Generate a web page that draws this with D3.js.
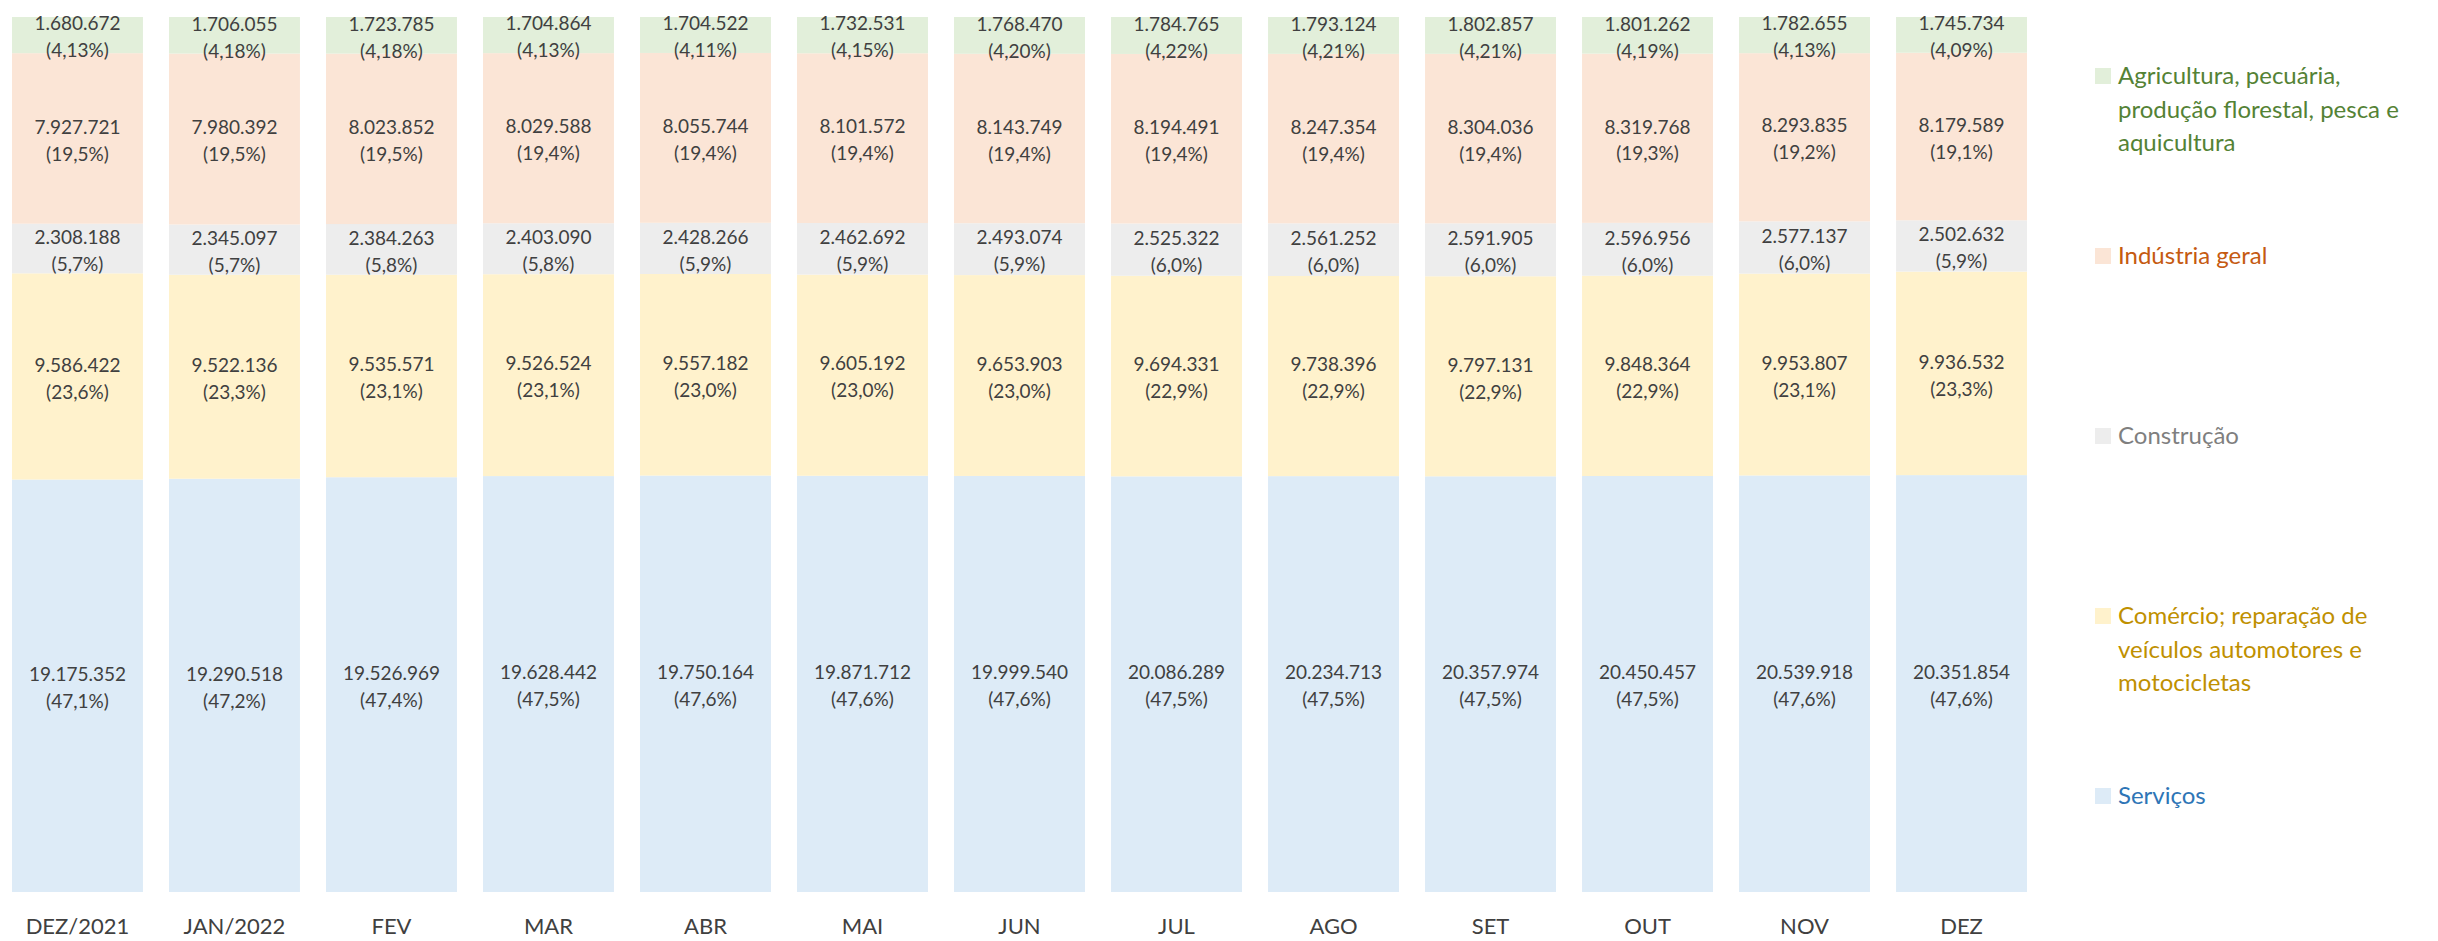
<!DOCTYPE html>
<html>
<head>
<meta charset="utf-8">
<script src="https://cdn.jsdelivr.net/npm/d3@7.9.0/dist/d3.min.js"></script>
<style>
  html, body { margin: 0; padding: 0; background: #fff; }
  svg { display: block; font-family: Lato, "Open Sans", sans-serif; }
</style>
</head>
<body>
<svg id="chart" width="2438" height="941"></svg>
<script>
// meses
const months = ['DEZ/2021', 'JAN/2022', 'FEV', 'MAR', 'ABR', 'MAI', 'JUN', 'JUL', 'AGO', 'SET', 'OUT', 'NOV', 'DEZ'];

// setores (de baixo para cima)
const sectors = ['servicos', 'comercio', 'construcao', 'industria', 'agricultura'];

const servicos    = [19175352, 19290518, 19526969, 19628442, 19750164, 19871712, 19999540, 20086289, 20234713, 20357974, 20450457, 20539918, 20351854];
const comercio    = [9586422, 9522136, 9535571, 9526524, 9557182, 9605192, 9653903, 9694331, 9738396, 9797131, 9848364, 9953807, 9936532];
const construcao  = [2308188, 2345097, 2384263, 2403090, 2428266, 2462692, 2493074, 2525322, 2561252, 2591905, 2596956, 2577137, 2502632];
const industria   = [7927721, 7980392, 8023852, 8029588, 8055744, 8101572, 8143749, 8194491, 8247354, 8304036, 8319768, 8293835, 8179589];
const agricultura = [1680672, 1706055, 1723785, 1704864, 1704522, 1732531, 1768470, 1784765, 1793124, 1802857, 1801262, 1782655, 1745734];

// percentuais como aparecem nos rótulos
const pctServicos    = ['47,1', '47,2', '47,4', '47,5', '47,6', '47,6', '47,6', '47,5', '47,5', '47,5', '47,5', '47,6', '47,6'];
const pctComercio    = ['23,6', '23,3', '23,1', '23,1', '23,0', '23,0', '23,0', '22,9', '22,9', '22,9', '22,9', '23,1', '23,3'];
const pctConstrucao  = ['5,7', '5,7', '5,8', '5,8', '5,9', '5,9', '5,9', '6,0', '6,0', '6,0', '6,0', '6,0', '5,9'];
const pctIndustria   = ['19,5', '19,5', '19,5', '19,4', '19,4', '19,4', '19,4', '19,4', '19,4', '19,4', '19,3', '19,2', '19,1'];
const pctAgricultura = ['4,13', '4,18', '4,18', '4,13', '4,11', '4,15', '4,20', '4,22', '4,21', '4,21', '4,19', '4,13', '4,09'];

const legendItems = [
  { key: 'agricultura', lines: ['Agricultura, pecuária,', 'produção florestal, pesca e', 'aquicultura'] },
  { key: 'industria',   lines: ['Indústria geral'] },
  { key: 'construcao',  lines: ['Construção'] },
  { key: 'comercio',    lines: ['Comércio; reparação de', 'veículos automotores e', 'motocicletas'] },
  { key: 'servicos',    lines: ['Serviços'] }
];

const fill = { agricultura: '#e2efda', industria: '#fbe5d6', construcao: '#ededed', comercio: '#fff2cc', servicos: '#ddebf7' };
const ink  = { agricultura: '#548235', industria: '#c55a11', construcao: '#7f7f7f', comercio: '#bf9000', servicos: '#2e75b6' };

const values = { servicos, comercio, construcao, industria, agricultura };
const pcts = { servicos: pctServicos, comercio: pctComercio, construcao: pctConstrucao, industria: pctIndustria, agricultura: pctAgricultura };

const rows = months.map((m, i) => {
  const r = { month: m, i };
  sectors.forEach(s => r[s] = values[s][i]);
  return r;
});

const svg = d3.select('#chart');

const x = d3.scaleBand().domain(months).range([12, 2027]).paddingInner(0.166).paddingOuter(0);
const y = d3.scaleLinear().domain([0, 1]).range([892, 17]);

const stack = d3.stack().keys(sectors).offset(d3.stackOffsetExpand);
const series = stack(rows);

const fmt = d3.formatLocale({ decimal: ',', thousands: '.', grouping: [3], currency: ['R$', ''] }).format(',d');

const layers = svg.append('g').selectAll('g')
  .data(series).join('g')
  .attr('fill', d => fill[d.key]);

layers.selectAll('rect')
  .data(d => d)
  .join('rect')
  .attr('x', d => x(d.data.month))
  .attr('width', x.bandwidth())
  .attr('y', d => y(d[1]))
  .attr('height', d => y(d[0]) - y(d[1]));

// rótulos de valores
const labels = svg.append('g')
  .attr('font-size', 19)
  .attr('fill', '#404040')
  .attr('text-anchor', 'middle');

series.forEach(s => {
  s.forEach(d => {
    const cx = x(d.data.month) + x.bandwidth() / 2;
    const cy = (y(d[0]) + y(d[1])) / 2;
    const t = labels.append('text').attr('x', cx).attr('y', cy);
    t.append('tspan').attr('x', cx).attr('dy', '-0.25em').text(fmt(d.data[s.key]));
    t.append('tspan').attr('x', cx).attr('dy', '1.42em').text('(' + pcts[s.key][d.data.i] + '%)');
  });
});

// eixo x
const xAxis = svg.append('g')
  .attr('transform', 'translate(0,892)')
  .call(d3.axisBottom(x).tickSize(0).tickPadding(26));
xAxis.select('.domain').remove();
xAxis.selectAll('text')
  .attr('font-size', 22)
  .attr('font-family', 'Lato, "Open Sans", sans-serif')
  .attr('fill', '#404040');

// legenda
const legend = svg.append('g').attr('font-size', 24);
legendItems.forEach((item, k) => {
  const base = 84 + k * 180;
  const g = legend.append('g');
  g.append('rect')
    .attr('x', 2095).attr('y', base - 16)
    .attr('width', 16).attr('height', 16)
    .attr('fill', fill[item.key]);
  const t = g.append('text').attr('fill', ink[item.key]);
  item.lines.forEach((line, j) => {
    t.append('tspan').attr('x', 2118).attr('y', base + j * 33.5).text(line);
  });
});
</script>
</body>
</html>
